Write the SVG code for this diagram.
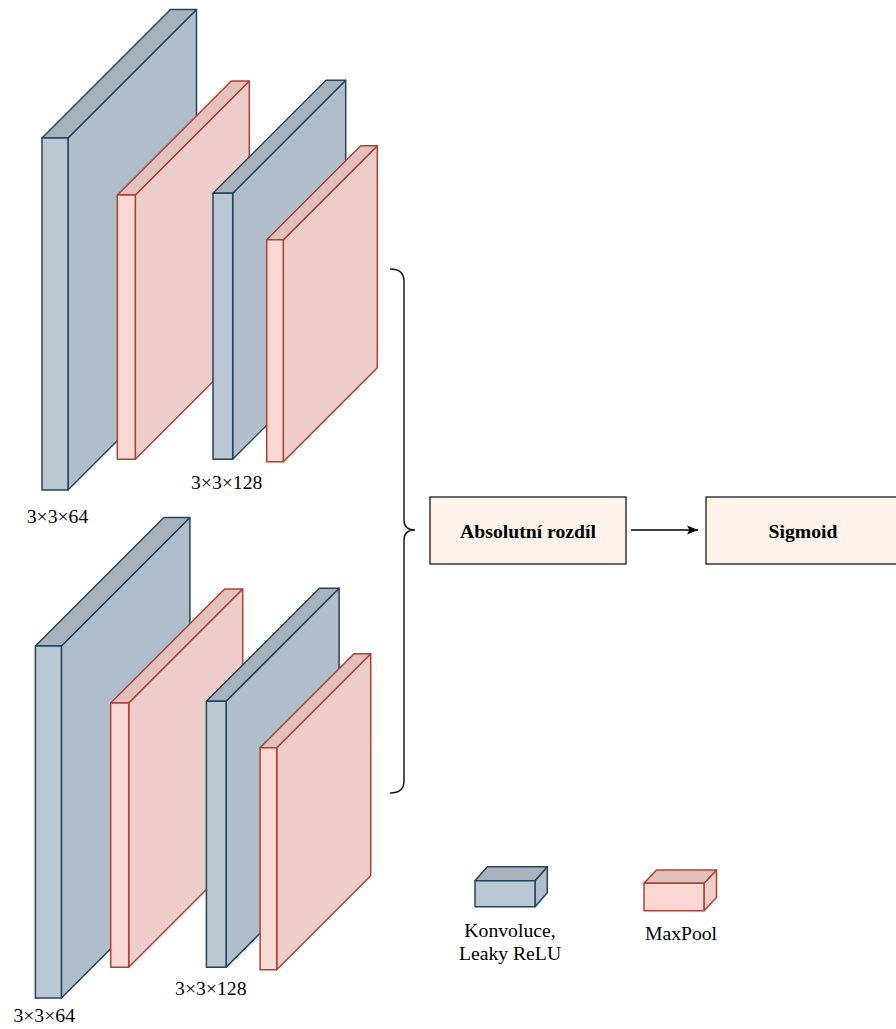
<svg xmlns="http://www.w3.org/2000/svg" width="896" height="1029" viewBox="0 0 896 1029">
<style>
.bf{fill:#bac8d3;stroke:#23445d;stroke-width:1.5;stroke-linejoin:round}
.bs{fill:#b0bdca;stroke:#23445d;stroke-width:1.5;stroke-linejoin:round}
.bt{fill:#a6b3bd;stroke:#23445d;stroke-width:1.5;stroke-linejoin:round}
.pf{fill:#fad9d5;stroke:#ae4132;stroke-width:1.5;stroke-linejoin:round}
.ps{fill:#eecdca;stroke:#ae4132;stroke-width:1.5;stroke-linejoin:round}
.pt{fill:#e2c1bd;stroke:#ae4132;stroke-width:1.5;stroke-linejoin:round}
.lbl{font-family:"Liberation Serif","Times New Roman",serif;font-size:19.7px;fill:#000;text-anchor:middle}
.bold{font-weight:bold}
.box{fill:#fdf3ea;stroke:#1a1a1a;stroke-width:1.3}
</style>
<defs>
<marker id="arr" markerWidth="12" markerHeight="10" refX="11" refY="5" orient="auto" markerUnits="userSpaceOnUse">
<path d="M0,0.5 L11,5 L0,9.5 L2.5,5 Z" fill="#000"/>
</marker>
<g id="stack">
<g id="conv1">
<polygon class="bs" points="68,138 196.5,9.5 196.5,361.5 68,490"/>
<polygon class="bt" points="42,138 170.5,9.5 196.5,9.5 68,138"/>
<rect class="bf" x="42" y="138" width="26" height="352"/>
</g>
<g id="pool1">
<polygon class="ps" points="135.3,195 249.3,81 249.3,345.3 135.3,459.3"/>
<polygon class="pt" points="117.3,195 231.3,81 249.3,81 135.3,195"/>
<rect class="pf" x="117.3" y="195" width="18" height="264.3"/>
</g>
<g id="conv2">
<polygon class="bs" points="232.7,193.3 345.7,80.3 345.7,346.3 232.7,459.3"/>
<polygon class="bt" points="213,193.3 326,80.3 345.7,80.3 232.7,193.3"/>
<rect class="bf" x="213" y="193.3" width="19.7" height="266"/>
</g>
<g id="pool2">
<polygon class="ps" points="283.3,239.7 377.3,145.7 377.3,367.7 283.3,461.7"/>
<polygon class="pt" points="266.7,239.7 360.7,145.7 377.3,145.7 283.3,239.7"/>
<rect class="pf" x="266.7" y="239.7" width="16.6" height="222"/>
</g>
</g>
</defs>
<g id="top-branch">
<use href="#stack"/>
<text class="lbl" x="57.5" y="523">3×3×64</text>
<text class="lbl" x="226.7" y="489">3×3×128</text>
</g>
<g id="bottom-branch">
<use href="#stack" transform="translate(-6.6,508)"/>
<text class="lbl" x="44.2" y="1022">3×3×64</text>
<text class="lbl" x="210.8" y="995">3×3×128</text>
</g>
<g id="connectors">
<path d="M390,269 Q404,269 404,281 L404,520 Q404,530 415,530 Q404,530 404,540 L404,781 Q404,793 390,793" fill="none" stroke="#1a1a1a" stroke-width="1.5"/>
<line x1="631" y1="530" x2="698" y2="530" stroke="#000" stroke-width="1.5" marker-end="url(#arr)"/>
</g>
<g id="abs-diff">
<rect class="box" x="430" y="497" width="196" height="67"/>
<text class="lbl bold" x="528" y="538">Absolutní rozdíl</text>
</g>
<g id="sigmoid">
<rect class="box" x="706" y="497" width="196" height="67"/>
<text class="lbl bold" x="803" y="538">Sigmoid</text>
</g>
<g id="legend-conv">
<polygon class="bs" points="535,880.7 547.3,866.7 547.3,892.7 535,906.7"/>
<polygon class="bt" points="475,880.7 487.3,866.7 547.3,866.7 535,880.7"/>
<rect class="bf" x="475" y="880.7" width="60" height="26"/>
<text class="lbl" x="510" y="937">Konvoluce,</text>
<text class="lbl" x="510" y="960">Leaky ReLU</text>
</g>
<g id="legend-pool">
<polygon class="ps" points="704,883.3 716.5,870 716.5,897.4 704,910.7"/>
<polygon class="pt" points="644,883.3 656.5,870 716.5,870 704,883.3"/>
<rect class="pf" x="644" y="883.3" width="60" height="27.4"/>
<text class="lbl" x="681" y="940">MaxPool</text>
</g>
</svg>
